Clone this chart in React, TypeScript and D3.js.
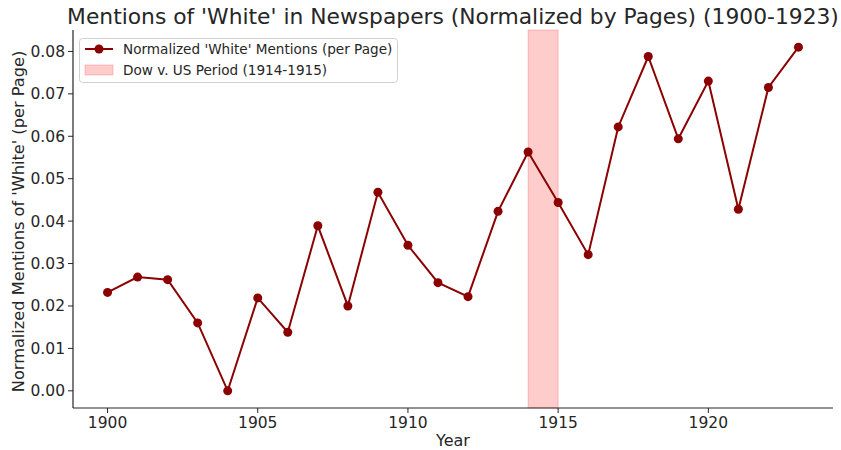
import React from "react";
import * as d3 from "d3";

const years = [1900,1901,1902,1903,1904,1905,1906,1907,1908,1909,1910,1911,1912,1913,1914,1915,1916,1917,1918,1919,1920,1921,1922,1923];
const mentions = [0.0232,0.0268,0.0262,0.0160,0.0000,0.0219,0.0138,0.0389,0.0200,0.0468,0.0343,0.0255,0.0222,0.0423,0.0563,0.0444,0.0321,0.0622,0.0788,0.0594,0.0730,0.0428,0.0715,0.0810];
const xTicks = [1900,1905,1910,1915,1920];
const yTicks = [0,0.01,0.02,0.03,0.04,0.05,0.06,0.07,0.08];
const spanRange = [1914, 1915];
const title = "Mentions of 'White' in Newspapers (Normalized by Pages) (1900-1923)";
const xLabel = "Year";
const yLabel = "Normalized Mentions of 'White' (per Page)";
const lineLabel = "Normalized 'White' Mentions (per Page)";
const spanLabel = "Dow v. US Period (1914-1915)";

export default function App() {
  const W = 841, H = 450;
  const left = 73, right = 833, top = 30, bottom = 408;
  const xr = [1900 - 0.05 * 23, 1923 + 0.05 * 23];
  const ymax = d3.max(mentions)!;
  const x = d3.scaleLinear().domain(xr).range([left, right]);
  const y = d3.scaleLinear().domain([-0.05 * ymax, ymax * 1.05]).range([bottom, top]);
  const line = d3.line<number>().x((_, i) => x(years[i])).y(d => y(d));
  const color = "#8b0000";
  const font = "DejaVu Sans, sans-serif";
  const txt = "#262626";
  return (
    <svg width={W} height={H} style={{ position: "absolute", left: 0, top: 0, background: "#fff" }} fontFamily={font}>
      <rect x={0} y={0} width={W} height={H} fill="#fff" />
      <rect x={x(spanRange[0])} y={top} width={x(spanRange[1]) - x(spanRange[0])} height={bottom - top}
        fill="#ff0000" fillOpacity={0.2} stroke="#ff0000" strokeOpacity={0.2} />
      <path d={line(mentions)!} fill="none" stroke={color} strokeWidth={2} />
      {mentions.map((v, i) => (
        <circle key={i} cx={x(years[i])} cy={y(v)} r={4.5} fill={color} />
      ))}
      <line x1={left} x2={left} y1={top} y2={bottom} stroke={txt} strokeWidth={1.2} />
      <line x1={left} x2={right} y1={bottom} y2={bottom} stroke={txt} strokeWidth={1.2} />
      {yTicks.map(t => (
        <g key={t}>
          <line x1={left - 5} x2={left} y1={y(t)} y2={y(t)} stroke={txt} strokeWidth={1} />
          <text x={left - 8} y={y(t)} dy="0.35em" textAnchor="end" fontSize={15.5} fill={txt}>{t.toFixed(2)}</text>
        </g>
      ))}
      {xTicks.map(t => (
        <g key={t}>
          <line x1={x(t)} x2={x(t)} y1={bottom} y2={bottom + 5} stroke={txt} strokeWidth={1} />
          <text x={x(t)} y={bottom + 20} textAnchor="middle" fontSize={15.5} fill={txt}>{t}</text>
        </g>
      ))}
      <text x={(left + right) / 2} y={446} textAnchor="middle" fontSize={16} fill={txt}>{xLabel}</text>
      <text transform={`translate(24,${221.5}) rotate(-90)`} textAnchor="middle" fontSize={16.2} fill={txt}>{yLabel}</text>
      <text x={(left + right) / 2} y={24} textAnchor="middle" fontSize={21.8} fill={txt}>{title}</text>
      <g>
        <rect x={79.5} y={38.5} width={318} height={44} rx={3} fill="#fff" fillOpacity={0.8} stroke="#d0d0d0" />
        <line x1={85} x2={113} y1={49} y2={49} stroke={color} strokeWidth={2} />
        <circle cx={99} cy={49} r={4.5} fill={color} />
        <text x={123} y={49} dy="0.35em" fontSize={13.6} fill={txt}>{lineLabel}</text>
        <rect x={85} y={65} width={28} height={10} fill="#ff0000" fillOpacity={0.2} stroke="#ff0000" strokeOpacity={0.2} />
        <text x={123} y={70} dy="0.35em" fontSize={13.6} fill={txt}>{spanLabel}</text>
      </g>
    </svg>
  );
}
